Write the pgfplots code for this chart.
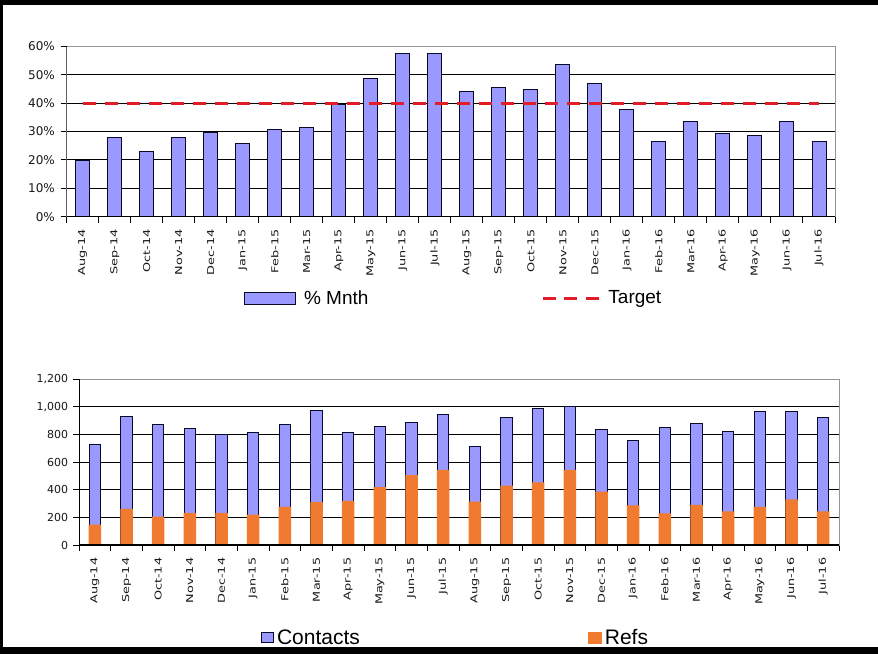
\documentclass[border=0pt]{standalone}
\usepackage{pgfplots}
\pgfplotsset{compat=1.18}
\usepackage{fontspec}
\setmainfont{Liberation Sans}
\newfontfamily\tickfont{DejaVu Sans}
\newfontfamily\xtickfont[FakeStretch=1.35]{DejaVu Sans}
\definecolor{barblue}{RGB}{153,153,255}
\definecolor{reforange}{RGB}{240,122,48}
\definecolor{tgtred}{RGB}{225,30,40}
\definecolor{bordergray}{RGB}{150,150,150}
\definecolor{baredge}{RGB}{10,10,40}

\pgfplotsset{
  chartbase/.style={
    scale only axis, anchor=south west,
    xmin=-0.5, xmax=23.5,
    xtick={0,...,23},
    xticklabels={Aug-14,Sep-14,Oct-14,Nov-14,Dec-14,Jan-15,Feb-15,Mar-15,Apr-15,May-15,Jun-15,Jul-15,Aug-15,Sep-15,Oct-15,Nov-15,Dec-15,Jan-16,Feb-16,Mar-16,Apr-16,May-16,Jun-16,Jul-16},
    minor xtick={-0.5,0.5,...,23.5},
    major x tick style={draw=none},
    minor x tick style={draw=black, line width=1pt},
    minor tick length=6pt,
    major tick length=6pt,
    tick align=outside,
    xtick pos=bottom, ytick pos=left,
    x tick label style={rotate=90, anchor=east, font=\xtickfont\fontsize{9.5}{10}\selectfont, inner sep=0pt, text=black!90},
    xticklabel shift=6.5pt,
    y tick label style={inner sep=0pt, text=black!90},
    ytick style={draw=black, line width=1pt},
    ymajorgrids, grid style={draw=black, line width=1pt},
    axis line style={draw=bordergray, line width=1pt},
    scaled y ticks=false,
    /pgf/number format/assume math mode=true,
    legend style={draw=none, fill=none, inner sep=0pt, outer sep=0pt, legend columns=2, nodes={inner sep=0pt}},
    legend cell align=left,
  }
}

\begin{document}
\begin{tikzpicture}
\fill[black] (0pt,0pt) rectangle (878pt,654pt);
\fill[white] (3pt,7pt) rectangle (878pt,649pt);

% ---------- top chart ----------
\begin{axis}[chartbase, at={(66.7pt,437.3pt)}, width=768.3pt, height=170.2pt,
  ymin=0, ymax=60, ytick={0,10,...,50},
  extra y ticks={60}, extra y tick labels={60\%}, extra y tick style={grid=none},
  yticklabel={\pgfmathprintnumber{\tick}\%},
  yticklabel shift=5.7pt,
  y tick label style={font=\tickfont\fontsize{12}{12}\selectfont},
  legend style={at={(0.2308,-0.4777)}, anchor=west,
    /tikz/every odd column/.append style={column sep=8pt},
    /tikz/every even column/.append style={column sep=173pt},
    font=\fontsize{19}{20}\selectfont},
]
\addplot[ybar, bar width=14pt, bar shift=0pt, fill=barblue, draw=baredge, line width=1pt,
  legend image code/.code={\draw[fill=barblue, draw=baredge, line width=1pt] (0pt,-6pt) rectangle (51pt,6pt);}]
  coordinates {(0,19.8) (1,27.9) (2,22.9) (3,27.9) (4,29.8) (5,25.8) (6,30.7) (7,31.4)
    (8,39.4) (9,48.8) (10,57.4) (11,57.4) (12,44.1) (13,45.5) (14,44.8) (15,53.8)
    (16,46.9) (17,37.8) (18,26.5) (19,33.5) (20,29.5) (21,28.6) (22,33.5) (23,26.5)};
\addlegendentry{\% Mnth}
\addplot[tgtred, line width=3pt, dash pattern=on 13pt off 9pt,
  legend image code/.code={\draw[tgtred, line width=3pt, dash pattern=on 13pt off 8.5pt] (0pt,0pt) -- (56pt,0pt);}]
  coordinates {(0,40) (23,40)};
\addlegendentry{Target}
\draw[black, line width=1.3pt] (rel axis cs:0,1) -- (rel axis cs:0,0) -- (rel axis cs:1,0);
\end{axis}

% ---------- bottom chart ----------
\begin{axis}[chartbase, at={(79pt,109pt)}, width=760pt, height=166pt,
  ymin=0, ymax=1200, ytick={0,200,...,1000},
  extra y ticks={1200}, extra y tick labels={1{,}200}, extra y tick style={grid=none},
  yticklabel shift=4.7pt,
  y tick label style={font=\tickfont\fontsize{11}{11}\selectfont, /pgf/number format/1000 sep={,}},
  legend style={at={(0.2395,-0.560)}, anchor=west,
    /tikz/every odd column/.append style={column sep=3pt},
    /tikz/every even column/.append style={column sep=228pt},
    font=\fontsize{21}{22}\selectfont},
]
\addplot[ybar, bar width=11.5pt, bar shift=0pt, fill=barblue, draw=baredge, line width=1pt,
  legend image code/.code={\draw[fill=barblue, draw=baredge, line width=1pt] (0pt,-5pt) rectangle (12pt,5pt);}]
  coordinates {(0,729) (1,929) (2,871) (3,843) (4,800) (5,814) (6,871) (7,971)
    (8,814) (9,857) (10,886) (11,945) (12,710) (13,924) (14,986) (15,1000)
    (16,838) (17,752) (18,852) (19,881) (20,824) (21,967) (22,967) (23,924)};
\addlegendentry{Contacts}
\addplot[ybar, bar width=12.5pt, bar shift=0pt, fill=reforange, draw=none,
  legend image code/.code={\fill[reforange] (0pt,-6pt) rectangle (14pt,6pt);}]
  coordinates {(0,148) (1,262) (2,205) (3,233) (4,233) (5,219) (6,276) (7,310)
    (8,319) (9,419) (10,505) (11,543) (12,314) (13,429) (14,452) (15,543)
    (16,386) (17,286) (18,229) (19,290) (20,243) (21,276) (22,329) (23,243)};
\addlegendentry{Refs}
\draw[black, line width=1.3pt] (rel axis cs:0,1) -- (rel axis cs:0,0) -- (rel axis cs:1,0);
\end{axis}
\end{tikzpicture}
\end{document}
